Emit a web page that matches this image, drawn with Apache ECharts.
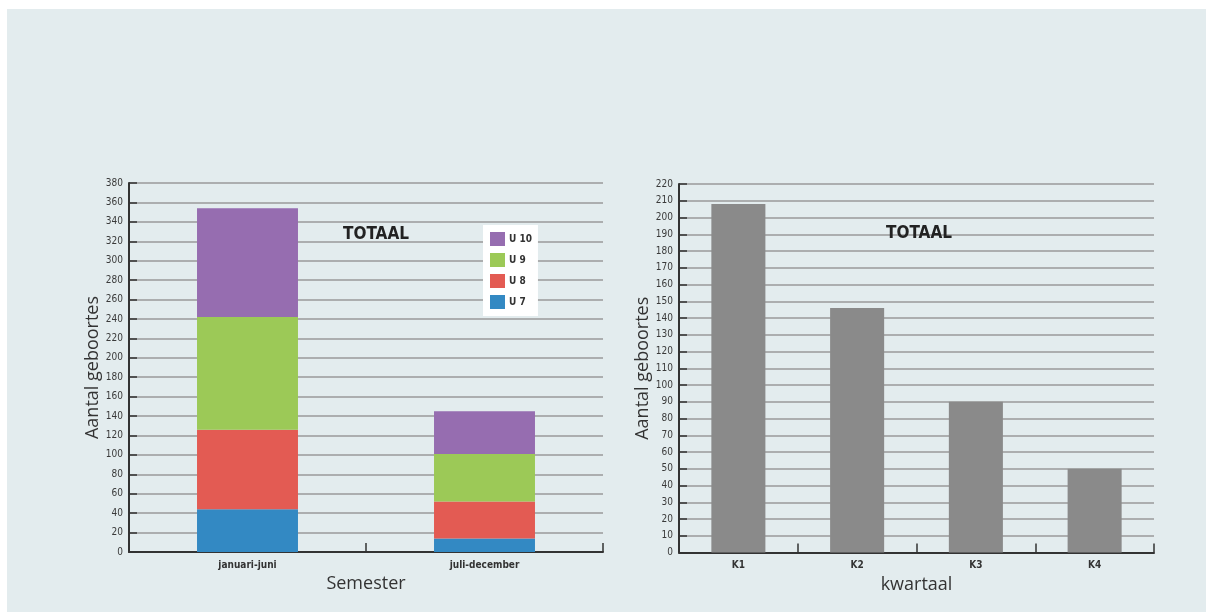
<!DOCTYPE html>
<html>
<head>
<meta charset="utf-8">
<script src="https://cdn.jsdelivr.net/npm/echarts@6/dist/echarts.min.js"></script>
<style>
  html, body { margin: 0; padding: 0; background: #ffffff; }
  #panel { position: absolute; left: 7px; top: 9px; right: 0; bottom: 0; background: #e3ecee; }
  #chart { position: absolute; left: 0; top: 0; width: 1206px; height: 612px; }
</style>
</head>
<body>
<div id="panel"></div>
<div id="chart"></div>
<script>
// Births per semester, split by group
const semesters = ['januari-juni', 'juli-december'];
const u7 = [44, 14];
const u8 = [82, 38];
const u9 = [116, 49];
const u10 = [112, 44];

// Births per quarter
const quarters = ['K1', 'K2', 'K3', 'K4'];
const quarterTotals = [208, 146, 90, 50];

const colors = { u7: '#3389c3', u8: '#e35b53', u9: '#9cc957', u10: '#966db0', grey: '#8a8a8a' };

const condensed = '"DejaVu Sans Condensed", "Liberation Sans Narrow", sans-serif';
const valueFont = { fontFamily: condensed, fontWeight: 'normal', fontSize: 10, color: '#3a3a3a' };
const catFont = { fontFamily: condensed, fontWeight: 'bold', fontSize: 10, color: '#333' };
const nameFont = { fontFamily: '"Open Sans", "Noto Sans", sans-serif', fontSize: 18, color: '#333' };
const titleFont = { fontFamily: condensed, fontWeight: 'bold', fontSize: 17, color: '#222' };

function valueAxis(gridIndex, max, interval) {
  return {
    type: 'value', gridIndex, min: 0, max, interval,
    name: 'Aantal geboortes', nameLocation: 'middle', nameGap: 25, nameRotate: 90,
    nameTextStyle: nameFont,
    axisLine: { show: true, lineStyle: { color: '#333', width: 2 } },
    axisTick: { show: true, inside: true, length: 8, lineStyle: { color: '#333', width: 1.5 } },
    axisLabel: Object.assign({ margin: 6 }, valueFont),
    splitLine: { show: true, lineStyle: { color: '#9a9a9a', width: 1.5 } }
  };
}

function categoryAxis(gridIndex, data, name) {
  return {
    type: 'category', gridIndex, data,
    name, nameLocation: 'middle', nameGap: 23, nameTextStyle: nameFont,
    axisLine: { show: true, lineStyle: { color: '#333', width: 2 } },
    axisTick: { show: true, inside: true, length: 9, lineStyle: { color: '#333', width: 1.5 } },
    axisLabel: Object.assign({ margin: 8 }, catFont)
  };
}

function stackSeries(name, data, color) {
  return {
    name, type: 'bar', stack: 'totaal', xAxisIndex: 0, yAxisIndex: 0,
    data, barWidth: '42.6%', itemStyle: { color }
  };
}

const chart = echarts.init(document.getElementById('chart'), null, { renderer: 'canvas' });
chart.setOption({
  animation: false,
  title: [
    { text: 'TOTAAL', left: 343, top: 226, textStyle: titleFont, padding: 0 },
    { text: 'TOTAAL', left: 886, top: 225, textStyle: titleFont, padding: 0 }
  ],
  legend: {
    data: ['U 10', 'U 9', 'U 8', 'U 7'],
    orient: 'vertical', left: 483, top: 225,
    backgroundColor: '#ffffff', padding: [7, 6, 7, 7],
    itemWidth: 15, itemHeight: 14, itemGap: 7,
    icon: 'rect',
    textStyle: Object.assign({}, catFont, { padding: [0, 0, 0, -1] })
  },
  grid: [
    { left: 129, top: 183, width: 474, height: 369 },
    { left: 679, top: 184, width: 475, height: 368.5 }
  ],
  xAxis: [
    categoryAxis(0, semesters, 'Semester'),
    categoryAxis(1, quarters, 'kwartaal')
  ],
  yAxis: [
    valueAxis(0, 380, 20),
    valueAxis(1, 220, 10)
  ],
  series: [
    stackSeries('U 7', u7, colors.u7),
    stackSeries('U 8', u8, colors.u8),
    stackSeries('U 9', u9, colors.u9),
    stackSeries('U 10', u10, colors.u10),
    {
      name: 'Kwartaal', type: 'bar', xAxisIndex: 1, yAxisIndex: 1,
      data: quarterTotals, barWidth: '45.5%', itemStyle: { color: colors.grey }
    }
  ]
});
</script>
</body>
</html>
